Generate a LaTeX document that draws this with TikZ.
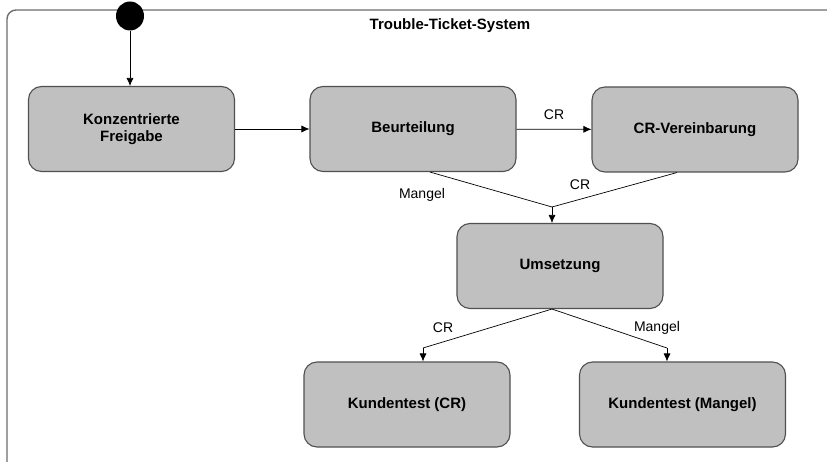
\documentclass[tikz,border=0pt]{standalone}
\usepackage{fontspec}
\setmainfont{Liberation Sans}
\usetikzlibrary{arrows.meta,shapes.geometric}
\definecolor{boxfill}{HTML}{C0C0C0}
\definecolor{boxline}{HTML}{505050}
\definecolor{framecol}{HTML}{6E6E6E}
\begin{document}
\begin{tikzpicture}[x=1pt,y=-1pt,
  state/.style={draw=boxline,line width=1.1pt,fill=boxfill,rounded corners=13pt,
    minimum width=206pt,minimum height=85pt,font=\bfseries\fontsize{15}{17}\selectfont,
    align=center,inner sep=0pt},
  trans/.style={draw=black,line width=0.7pt,-{Latex[length=8pt,width=7pt]}},
  seg/.style={draw=black,line width=0.7pt},
  lbl/.style={font=\fontsize{14}{16}\selectfont,inner sep=0pt}]
\useasboundingbox (0,0) rectangle (827,462);
\fill[white] (0,0) rectangle (827,462);
% frame
\draw[framecol,line width=1.4pt,rounded corners=9pt] (7,470) -- (7,10) -- (840,10);
\node[font=\bfseries\fontsize{15}{17}\selectfont] (title) at (450,26) {Trouble-Ticket-System};
% nodes
\node[fill=black,ellipse,minimum width=28pt,minimum height=29pt,inner sep=0pt] (init) at (130,16) {};
\node[state] (kf) at (131.5,129) {Konzentrierte\\Freigabe};
\node[state] (beu) at (413,129) {Beurteilung};
\node[state] (crv) at (695,129.5) {CR-Vereinbarung};
\node[state] (ums) at (560,266) {Umsetzung};
\node[state] (kcr) at (407,404.5) {Kundentest (CR)};
\node[state] (kma) at (682.5,404.5) {Kundentest (Mangel)};
\coordinate (j1) at (552,207);
\coordinate (j2) at (423,348);
\coordinate (j3) at (667,348);
% edges
\draw[trans] (init) -- (kf.north -| init);
\draw[trans] (kf) -- (beu);
\draw[trans] (beu) -- node[lbl,above=9pt] (lcr1) {CR} (crv);
\draw[seg] ([xshift=17pt]beu.south) -- (j1);
\draw[seg] ([xshift=-18pt]crv.south) -- (j1);
\draw[trans] (j1) -- (ums.north -| j1);
\draw[seg] ([xshift=-8pt]ums.south) -- (j2);
\draw[trans] (j2) -- (kcr.north -| j2);
\draw[seg] ([xshift=-8pt]ums.south) -- (j3);
\draw[trans] (j3) -- (kma.north -| j3);
% labels
\node[lbl] (lm1) at (422,195) {Mangel};
\node[lbl] (lcr2) at (580,185) {CR};
\node[lbl] (lcr3) at (443,328) {CR};
\node[lbl] (lm2) at (657,328) {Mangel};
\end{tikzpicture}
\end{document}
